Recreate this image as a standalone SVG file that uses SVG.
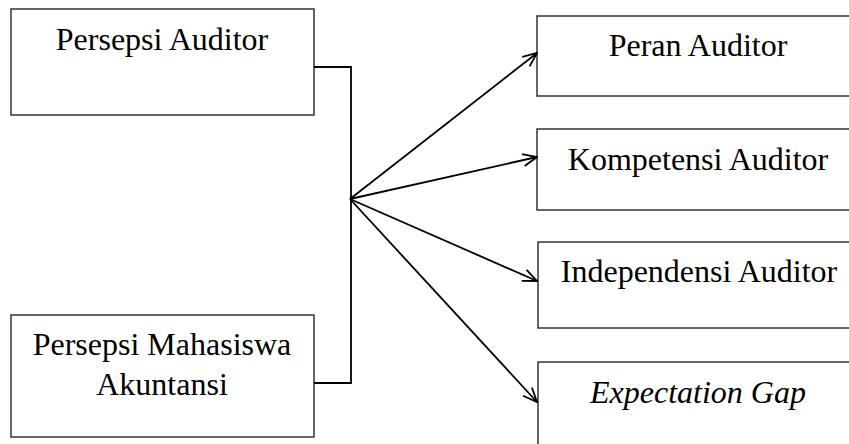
<svg xmlns="http://www.w3.org/2000/svg" width="849" height="444" viewBox="0 0 849 444">
<style>
.box{fill:#fff;stroke:#333;stroke-width:1.5}
.t{font-family:"Liberation Serif","Times New Roman",serif;font-size:32px;fill:#000;text-anchor:middle}
.c{fill:none;stroke:#000;stroke-width:1.8}
</style>
<defs>
<marker id="ah" viewBox="0 0 16 14" refX="15" refY="7" markerWidth="16" markerHeight="14" markerUnits="userSpaceOnUse" orient="auto">
<path d="M1,1 L15,7 L1,13" fill="none" stroke="#000" stroke-width="1.8"/>
</marker>
</defs>
<rect width="849" height="444" fill="#fff"/>
<g id="n1"><rect class="box" x="11" y="9" width="303" height="106"/><text class="t" x="162" y="50">Persepsi Auditor</text></g>
<g id="n2"><rect class="box" x="11" y="315" width="303" height="122"/><text class="t" x="162" y="355">Persepsi Mahasiswa</text><text class="t" x="162" y="395">Akuntansi</text></g>
<g id="n3"><rect class="box" x="537" y="16" width="322" height="80"/><text class="t" x="698" y="56">Peran Auditor</text></g>
<g id="n4"><rect class="box" x="537" y="129" width="322" height="81"/><text class="t" x="698" y="170">Kompetensi Auditor</text></g>
<g id="n5"><rect class="box" x="538" y="242" width="322" height="86"/><text class="t" x="699" y="282">Independensi Auditor</text></g>
<g id="n6"><rect class="box" x="538" y="362" width="322" height="100"/><text class="t" x="698" y="403" font-style="italic">Expectation Gap</text></g>
<g id="connectors">
<polyline class="c" points="314,67 351,67 351,383 314,383"/>
<line class="c" x1="350" y1="199" x2="537" y2="53" marker-end="url(#ah)"/>
<line class="c" x1="350" y1="199" x2="537" y2="157" marker-end="url(#ah)"/>
<line class="c" x1="350" y1="199" x2="537" y2="281" marker-end="url(#ah)"/>
<line class="c" x1="350" y1="199" x2="537" y2="402" marker-end="url(#ah)"/>
</g>
</svg>
